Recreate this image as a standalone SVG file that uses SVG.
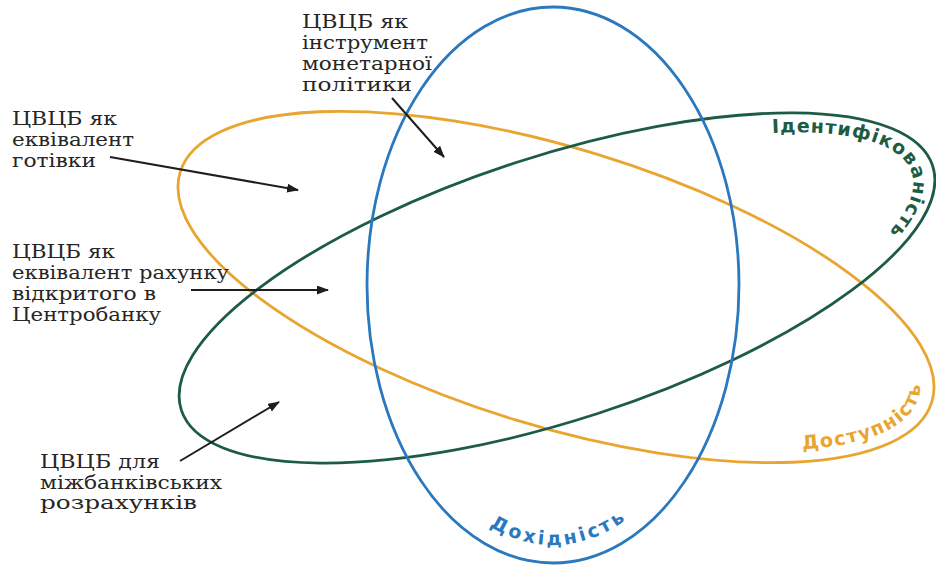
<svg xmlns="http://www.w3.org/2000/svg" width="936" height="568" viewBox="0 0 936 568">
<style>
.lbl{font-family:"DejaVu Serif","Liberation Serif",serif;font-size:18px;fill:#262626}
.ring{fill:none;stroke-width:2.8}
.arr{stroke:#1e1e1e;stroke-width:2;fill:none;marker-end:url(#ah)}
.curve{font-family:"DejaVu Sans","Liberation Sans",sans-serif;font-weight:bold;font-size:19px}
</style>
<defs>
<marker id="ah" markerUnits="userSpaceOnUse" markerWidth="12" markerHeight="10" refX="11" refY="4.5" orient="auto">
<path d="M0,0 L12,4.5 L0,9 Z" fill="#1e1e1e"/>
</marker>
<path id="pGreen" d="M 249.6 -81.7 A 373 110 0 0 1 285.7 70.7"/>
<path id="pOrange" d="M 268 88.4 A 379 125 0 0 0 343.5 -52.8"/>
<path id="pBlue" d="M 383 285 A 170 260 0 0 0 723 285"/>
</defs>
<rect width="936" height="568" fill="#ffffff"/>

<g id="orange">
<g transform="translate(556,287) rotate(17)">
<ellipse class="ring" cx="0" cy="0" rx="393" ry="139" stroke="#e8a530"/>
<text class="curve" fill="#e8a530" letter-spacing="1.5"><textPath href="#pOrange" startOffset="16">Доступність</textPath></text>
</g>
</g>

<g id="green">
<g transform="translate(557,288) rotate(-18)">
<ellipse class="ring" cx="0" cy="0" rx="395" ry="132" stroke="#1d5c44"/>
<text class="curve" fill="#1d5c44" letter-spacing="1"><textPath href="#pGreen" startOffset="3">Ідентифікованість</textPath></text>
</g>
</g>

<g id="blue">
<ellipse class="ring" cx="553" cy="285" rx="186" ry="278" stroke="#2a78be"/>
<text class="curve" fill="#2a78be" font-size="20" letter-spacing="3"><textPath href="#pBlue" startOffset="51%" text-anchor="middle">Дохідність</textPath></text>
</g>

<g id="label-cash">
<text class="lbl" x="12" y="125" textLength="105" lengthAdjust="spacingAndGlyphs">ЦВЦБ як</text>
<text class="lbl" x="12" y="146" textLength="122" lengthAdjust="spacingAndGlyphs">еквівалент</text>
<text class="lbl" x="12" y="167" textLength="84" lengthAdjust="spacingAndGlyphs">готівки</text>
</g>

<g id="label-account">
<text class="lbl" x="12" y="258" textLength="103" lengthAdjust="spacingAndGlyphs">ЦВЦБ як</text>
<text class="lbl" x="12" y="279" textLength="217" lengthAdjust="spacingAndGlyphs">еквівалент рахунку</text>
<text class="lbl" x="12" y="300" textLength="144" lengthAdjust="spacingAndGlyphs">відкритого в</text>
<text class="lbl" x="12" y="321" textLength="149" lengthAdjust="spacingAndGlyphs">Центробанку</text>
</g>

<g id="label-interbank">
<text class="lbl" x="40" y="468" textLength="120" lengthAdjust="spacingAndGlyphs">ЦВЦБ для</text>
<text class="lbl" x="40" y="489" textLength="182" lengthAdjust="spacingAndGlyphs">міжбанківських</text>
<text class="lbl" x="40" y="509" textLength="157" lengthAdjust="spacingAndGlyphs">розрахунків</text>
</g>

<g id="label-monetary">
<text class="lbl" x="302" y="28" textLength="106" lengthAdjust="spacingAndGlyphs">ЦВЦБ як</text>
<text class="lbl" x="302" y="49" textLength="126" lengthAdjust="spacingAndGlyphs">інструмент</text>
<text class="lbl" x="302" y="70" textLength="130" lengthAdjust="spacingAndGlyphs">монетарної</text>
<text class="lbl" x="302" y="91" textLength="110" lengthAdjust="spacingAndGlyphs">політики</text>
</g>

<g id="connectors">
<line class="arr" x1="110" y1="157" x2="298" y2="190"/>
<line class="arr" x1="191" y1="290" x2="328" y2="290"/>
<line class="arr" x1="180" y1="461" x2="279" y2="402"/>
<line class="arr" x1="392" y1="98" x2="444" y2="157"/>
</g>
</svg>
